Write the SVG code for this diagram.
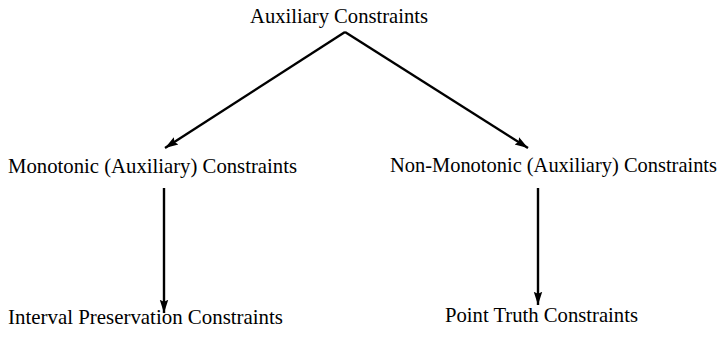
<svg xmlns="http://www.w3.org/2000/svg" width="725" height="338" viewBox="0 0 725 338">
<defs>
<style>
text{font-family:"Liberation Serif","Times New Roman",serif;font-size:21px;fill:#000}
.c{stroke:#000;stroke-width:2.4;fill:none}
</style>
<marker id="ah" viewBox="0 0 10 10" refX="10" refY="5" markerWidth="5.5" markerHeight="5.5" markerUnits="strokeWidth" orient="auto">
<path d="M0,1.8 L10,5 L0,8.2 L1.5,5 z" fill="#000"/>
</marker>
</defs>
<rect width="725" height="338" fill="#fff"/>
<g id="connectors">
<path class="c" d="M345,32 L165,148" marker-end="url(#ah)"/>
<path class="c" d="M345,32 L528,148" marker-end="url(#ah)"/>
<path class="c" d="M164,188 L164,313" marker-end="url(#ah)"/>
<path class="c" d="M538,188 L538,305" marker-end="url(#ah)"/>
</g>
<g id="n-aux"><text x="250" y="23" textLength="178" lengthAdjust="spacingAndGlyphs">Auxiliary Constraints</text></g>
<g id="n-mono"><text x="8" y="173" textLength="289" lengthAdjust="spacingAndGlyphs">Monotonic (Auxiliary) Constraints</text></g>
<g id="n-nonmono"><text x="390" y="172" textLength="327" lengthAdjust="spacingAndGlyphs">Non-Monotonic (Auxiliary) Constraints</text></g>
<g id="n-interval"><text x="8" y="324" textLength="275" lengthAdjust="spacingAndGlyphs">Interval Preservation Constraints</text></g>
<g id="n-point"><text x="445" y="322" textLength="193" lengthAdjust="spacingAndGlyphs">Point Truth Constraints</text></g>
</svg>
